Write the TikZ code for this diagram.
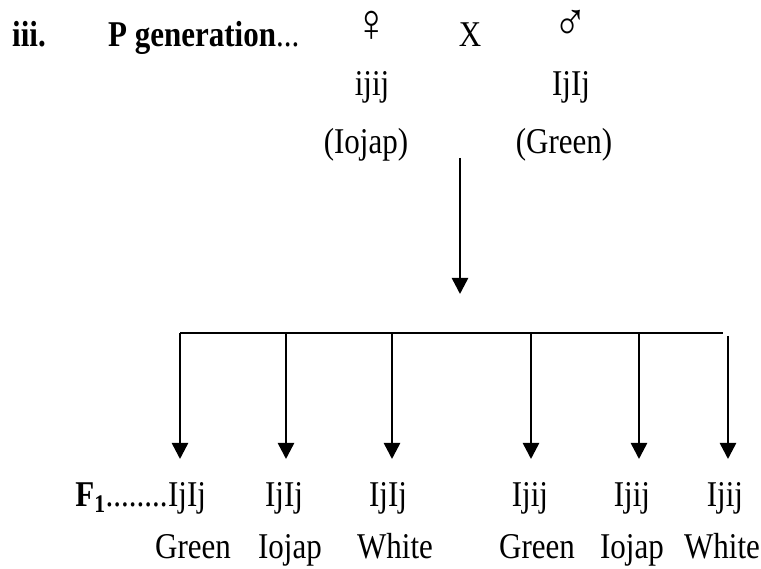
\documentclass[tikz,border=0pt]{standalone}
\usepackage{fontspec}
\usepackage{graphicx}
\setmainfont{Liberation Serif}
\usetikzlibrary{arrows.meta}
\newcommand{\vst}[1]{\scalebox{1}[1.17]{#1}}
\begin{document}
\begin{tikzpicture}[x=1pt,y=-1pt,
  lbl/.style={inner sep=0pt, anchor=base, font=\fontsize{31}{37}\selectfont},
  sym/.style={lbl, font=\fontsize{46}{50}\selectfont},
  bar/.style={line width=1.4pt},
  arr/.style={line width=2.5pt, -{Triangle[width=16pt,length=16pt]}},
]
\useasboundingbox (0,0) rectangle (761,569);
% header
\node[lbl, anchor=base west] (num) at (12,47) {\vst{\textbf{iii.}}};
\node[lbl, anchor=base west] (pgen) at (108,47) {\vst{\textbf{P generation}...}};
\node[sym] (fem) at (372,42) {\vst{♀}};
\node[lbl] (cross) at (470,47) {\vst{X}};
\node[sym] (male) at (571,41) {\vst{♂}};
\node[lbl] (fg) at (372,96) {\vst{ijij}};
\node[lbl] (mg) at (571,96) {\vst{IjIj}};
\node[lbl] (fp) at (366,154) {\vst{(Iojap)}};
\node[lbl] (mp) at (564,154) {\vst{(Green)}};
% main arrow
\coordinate (a0) at (460,158);
\coordinate (a1) at (460,294);
\draw[arr] (a0) -- (a1);
% bar
\coordinate (d1) at (180,333);
\coordinate (d2) at (286,333);
\coordinate (d3) at (392,333);
\coordinate (d4) at (531,333);
\coordinate (d5) at (639,333);
\coordinate (d6) at (728,336);
\coordinate (bend) at (723,333);
\draw[bar] (d1) -- (bend);
\coordinate (t1) at (180,459);
\coordinate (t2) at (286,459);
\coordinate (t3) at (392,459);
\coordinate (t4) at (531,459);
\coordinate (t5) at (639,459);
\coordinate (t6) at (728,459);
\foreach \i in {1,...,6} { \draw[arr] (d\i) -- (t\i); }
% F1 genotypes
\node[lbl] (g1) at (187,506) {\vst{IjIj}};
\node[lbl] (g2) at (284,506) {\vst{IjIj}};
\node[lbl] (g3) at (388,506) {\vst{IjIj}};
\node[lbl] (g4) at (530,506) {\vst{Ijij}};
\node[lbl] (g5) at (632,506) {\vst{Ijij}};
\node[lbl] (g6) at (725,506) {\vst{Ijij}};
\node[lbl, anchor=base east] (f1) at (g1.base west) {\vst{\textbf{F\textsubscript{1}}........}};
% phenotypes
\node[lbl] (p1) at (193,558) {\vst{Green}};
\node[lbl] (p2) at (290,558) {\vst{Iojap}};
\node[lbl] (p3) at (395,558) {\vst{White}};
\node[lbl] (p4) at (537,558) {\vst{Green}};
\node[lbl] (p5) at (632,558) {\vst{Iojap}};
\node[lbl] (p6) at (722,558) {\vst{White}};
\end{tikzpicture}
\end{document}
